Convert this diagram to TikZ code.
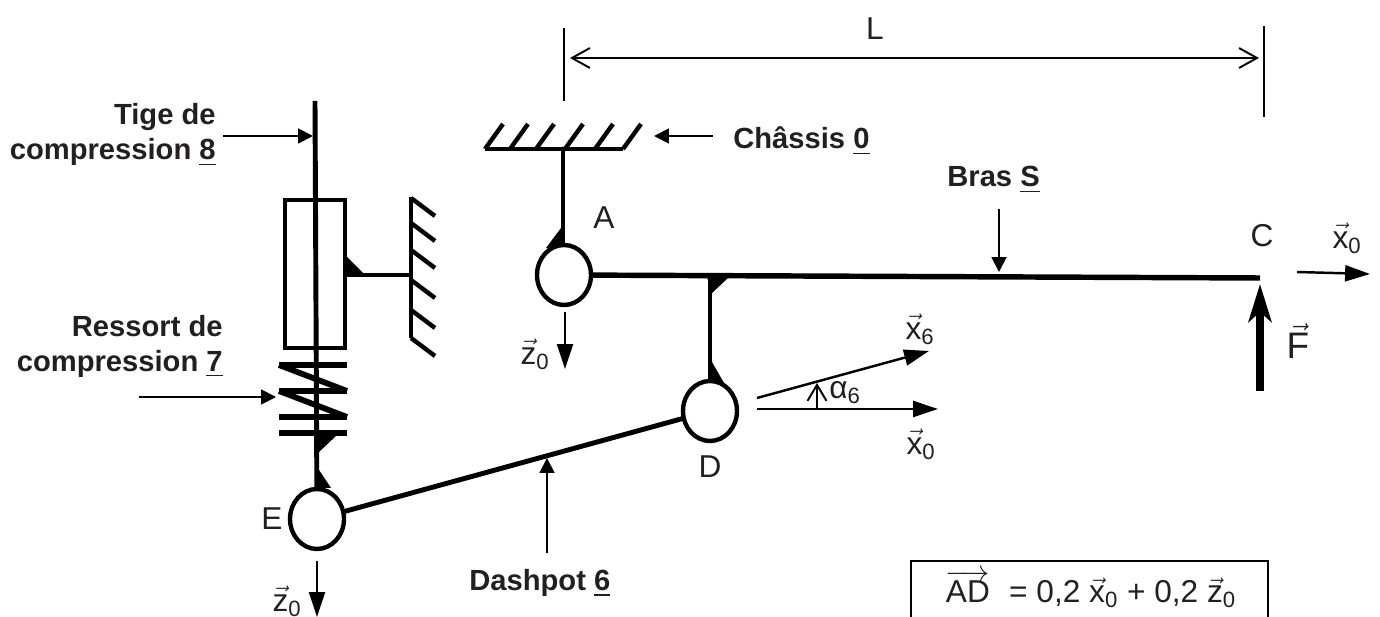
\documentclass[tikz,border=0pt]{standalone}
\usepackage{amsmath}
\usepackage{fontspec}
\setmainfont{Liberation Sans}
\usepackage{tikz}
\usetikzlibrary{arrows.meta, shapes.geometric}
\definecolor{inkgrey}{RGB}{35,31,32}
\newcommand{\vecsub}[2]{$\vec{\text{#1}}_{\text{#2}}$}
\tikzset{
	piece/.style={line width=2.8pt, line cap=round},
	fine/.style={line width=1.1pt},
	hatch/.style={line width=2.5pt},
	coil/.style={line width=3.3pt},
	weld/.style={fill=black, draw=none},
	joint/.style={ellipse, draw, line width=2.5pt, fill=white, inner sep=0pt, minimum width=1.08cm, minimum height=1.2cm},
	callout/.style={fine, -{Triangle[length=15*0.567pt, width=15*0.567pt]}},
	axis/.style={line width=1.4pt, -{Triangle[length=25*0.567pt, width=16*0.567pt]}},
	partname/.style={font=\fontsize{16.6}{20}\selectfont\bfseries, text=inkgrey, align=right, inner sep=0pt},
	lbl/.style={font=\fontsize{18}{20}\selectfont, text=inkgrey, inner sep=0pt},
}
\begin{document}
\begin{tikzpicture}[x=0.02cm, y=-0.02cm]
		\useasboundingbox (0,0) rectangle (1380,617);
		% joints
		\coordinate (Cend) at (1260,278);
		\coordinate (rodtop) at (315,101);
		\coordinate (chassisleft) at (485,149);
		\coordinate (chassisright) at (623,149);
		\coordinate (chassisA) at (563,149);
		\coordinate (barD) at (710,277);
		\draw[piece,line cap=butt,line width=3.1pt] (564,275) -- (Cend);
		\draw[piece] (563,275) -- (chassisA);
		\draw[piece] (710,411) -- (barD);
		\draw[piece] (317,519) -- (710,411);
		\draw[piece,line cap=butt] (rodtop) -- (317,519);
		\node[joint] (A) at (564,275){};
		\node[joint] (D) at (710,411){};
		\node[joint] (E) at (317,519){};
		% chassis
		\draw[hatch] (chassisleft) -- (chassisright);
		\foreach \xa in {485,510,536,565,595,623}
			\draw[hatch] (\xa,149) -- +(18,-25);
		% cylinder and its wall
		\draw[line width=2.8pt] (285,200) rectangle (345,348);
		\draw[hatch] (411,197) -- (411,338);
		\draw[hatch] (347,275) -- (411,275);
		\foreach \ya in {198,223,250,280,310,338}
			\draw[hatch] (411,\ya) -- +(24,18);
		% spring
		\foreach \ya in {365,391,417,433}
			\draw[coil] (279,\ya) -- (347,\ya);
		\draw[coil] (279,365) -- (347,391);
		\draw[coil] (279,391) -- (347,417);
		% welds
		\fill[weld] (347,257) -- (363,273) -- (347,277) -- cycle;
		\fill[weld] (561,228) -- (546,248) -- (565,246) -- cycle;
		\fill[weld] (707,277) -- (728,278) -- (712,293) -- cycle;
		\fill[weld] (712,362) -- (724,383) -- (708,380) -- cycle;
		\fill[weld] (317,435) -- (336,436) -- (319,452) -- cycle;
		\fill[weld] (319,470) -- (331,488) -- (315,488) -- cycle;
		% callouts
		\node[partname, anchor=north east] (tige) at (216,103){Tige de\\compression \underline{8}};
		\node[partname, anchor=north east] (ressort) at (223,315){Ressort de\\compression \underline{7}};
		\node[partname, anchor=west] (chassis) at (733,141){Châssis \underline{0}};
		\node[partname, anchor=west] (bras) at (947,180){Bras \underline{S}};
		\node[partname, anchor=west] (dashpot) at (469,583){Dashpot \underline{6}};
		\draw[callout] (223,136) -- (313,136);
		\draw[callout] (139,397) -- (276,397);
		\draw[callout] (713,136) -- (654,136);
		\draw[callout] (999,209) -- (999,272);
		\draw[callout] (547,553) -- (547,458);
		% axes
		\draw[axis] (565,312) -- (565,369);
		\draw[axis] (317,561) -- (317,617);
		\draw[axis] (757,398) -- (929,351);
		\draw[axis] (757,409) -- (938,409);
		\draw[axis] (1297,272) -- (1370,274);
		\draw[fine, -{Straight Barb[length=16*0.567pt, width=19*0.567pt]}] (817,408) -- (817,383);
		\draw[line width=4.6pt, -{Stealth[length=38*0.567pt, width=23*0.567pt, inset=10*0.567pt]}] (1260,391) -- (1260,284);
		% dimension L
		\draw[fine] (564,28) -- (564,101);
		\draw[fine] (1264,26) -- (1264,117);
		\draw[fine, {Straight Barb[length=18*0.567pt, width=20*0.567pt]}-{Straight Barb[length=18*0.567pt, width=20*0.567pt]}] (570,58) -- (1259,58);
		% labels
		\node[lbl] (L) at (875,29){L};
		\node[lbl] (labA) at (604,218){A};
		\node[lbl] (labC) at (1262,236){C};
		\node[lbl] (labD) at (710,467){D};
		\node[lbl] (labE) at (272,519){E};
		\node[lbl] (zA) at (535,354){\vecsub{z}{0}};
		\node[lbl] (zE) at (287,601){\vecsub{z}{0}};
		\node[lbl] (xsix) at (920,329){\vecsub{x}{6}};
		\node[lbl] (xzero) at (921,444){\vecsub{x}{0}};
		\node[lbl] (xC) at (1347,238){\vecsub{x}{0}};
		\node[lbl] (alpha) at (845,393){α$_{\text{6}}$};
		\node[lbl, font=\fontsize{21}{24}\selectfont] (F) at (1298,341){$\vec{\text{F}}$};
		% relation box
		\draw[fine] (911,617) -- (911,561) -- (1268,561) -- (1268,617);
		\node[lbl, anchor=base] (relation) at (1091,603){$\overrightarrow{\text{AD}}$\,\, = 0,2 \vecsub{x}{0} + 0,2 \vecsub{z}{0}};
	\end{tikzpicture}
\end{document}
